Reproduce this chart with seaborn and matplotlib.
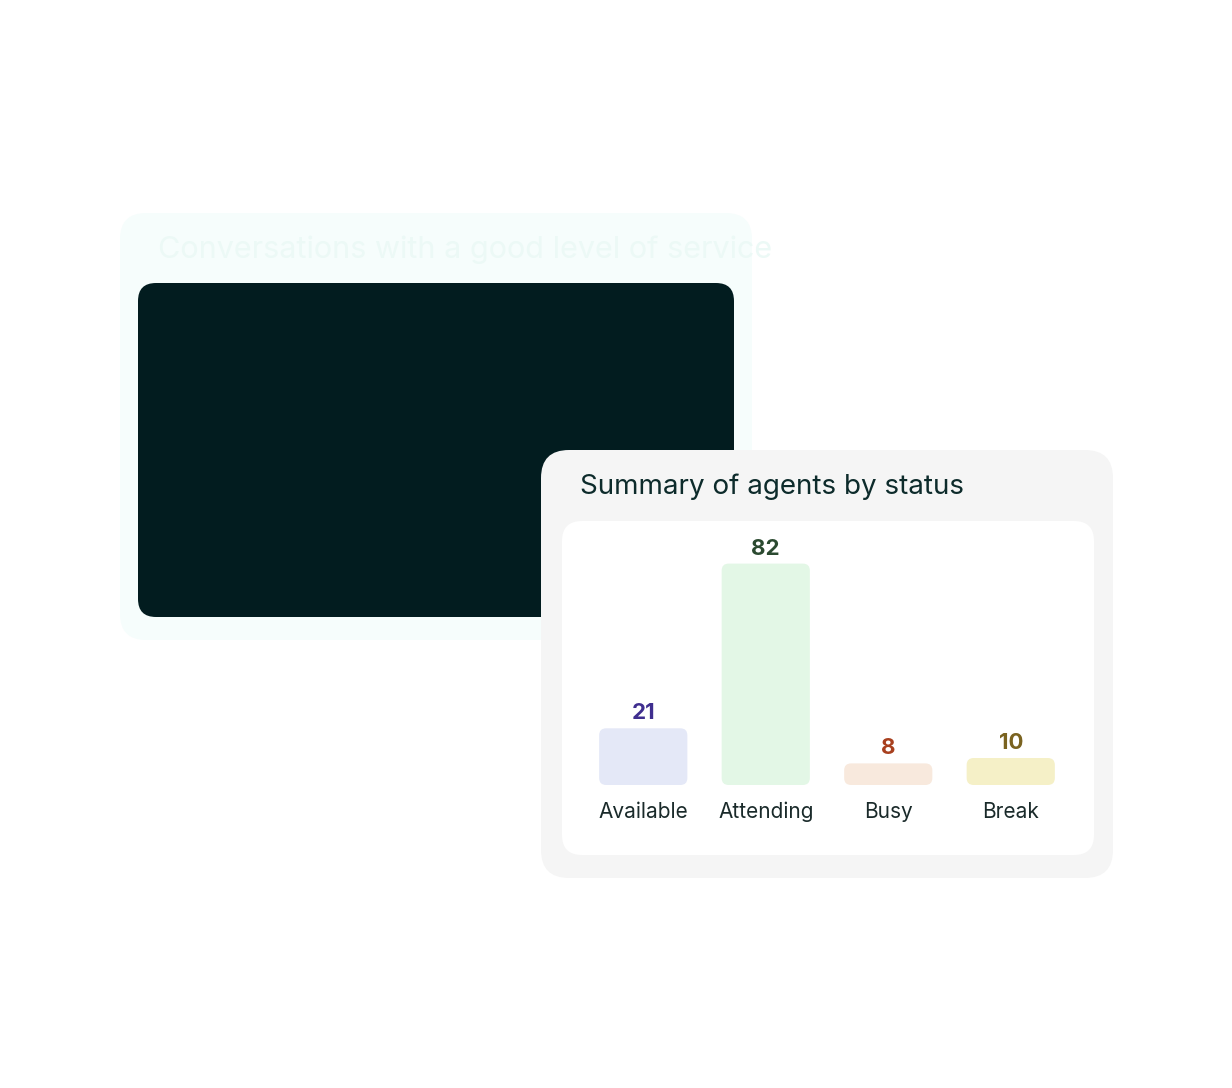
import numpy as np
import pandas as pd
import matplotlib
matplotlib.use("Agg")
import matplotlib.pyplot as plt
import seaborn as sns
from matplotlib.patches import FancyBboxPatch
from matplotlib.colors import to_rgb

# data
line_minutes = [-3, 13.4, 30.4, 45.4, 64.3, 84.5, 96.3]
line_values = [67, 74, 95, 79.5, 89, 95.5, 95.5]
marker_flags = [False, True, True, True, True, True, False]
tick_minutes = [0, 15, 30, 45, 60]
tick_labels = ["9:00", "9:15", "9:30", "9:45", "10:00"]
y_ticks = [20, 40, 60, 80, 100]

statuses = ["Available", "Attending", "Busy", "Break"]
counts = [21, 82, 8, 10]
bar_colors = ["#e1e6fa", "#e0fae3", "#fde8d8", "#fdf6bf"]
value_colors = ["#3f2e8f", "#2b4a30", "#a8401f", "#7a6320"]

sns.set_theme(style="white")
plt.rcParams["font.family"] = ["Inter", "DejaVu Sans"]

W, H = 1232, 1088
fig = plt.figure(figsize=(W / 100, H / 100), dpi=100)
fig.patch.set_facecolor("white")


def card(x0, y0, x1, y1, color, r, z):
    p = FancyBboxPatch((x0 / W, 1 - y1 / H), (x1 - x0) / W, (y1 - y0) / H,
                       boxstyle=f"round,pad=0,rounding_size={r / W}",
                       mutation_aspect=W / H, transform=fig.transFigure,
                       facecolor=color, edgecolor="none", zorder=z)
    fig.patches.append(p)


def axes_px(x0, y0, x1, y1):
    return fig.add_axes([x0 / W, 1 - y1 / H, (x1 - x0) / W, (y1 - y0) / H])


# back card + dark panel
card(120, 213, 752, 640, "#f6fdfc", 26, 0)
fig.text(158 / W, 1 - 250 / H, "Conversations with a good level of service",
         fontsize=22, color="#ecf9f6", va="center", zorder=1)
card(138, 283, 734, 617, "#021c1f", 18, 1)

ax = axes_px(192, 300, 734, 563)
ax.set_facecolor("none")
c0, c1 = np.array(to_rgb("#8eeacb")), np.array(to_rgb("#bcb9f2"))
n = len(line_minutes) - 1
for i in range(n):
    col = c0 + (c1 - c0) * (i + 0.5) / n
    sns.lineplot(x=line_minutes[i:i + 2], y=line_values[i:i + 2], ax=ax,
                 color=col, linewidth=3, solid_capstyle="round")
mx = [m for m, f in zip(line_minutes, marker_flags) if f]
my = [v for v, f in zip(line_values, marker_flags) if f]
mc = [c0 + (c1 - c0) * i / (len(mx) - 1) for i in range(len(mx))]
ax.scatter(mx, my, s=55, c=mc, zorder=3, edgecolors="none")
ax.set_xlim(-4.5, 102.4)
ax.set_ylim(5.2, 110)
ax.set_xticks(tick_minutes)
ax.set_xticklabels(tick_labels)
ax.set_yticks(y_ticks)
ax.tick_params(colors="white", labelsize=16, length=0, pad=10)
for s in ["top", "right", "left"]:
    ax.spines[s].set_visible(False)
ax.spines["bottom"].set_color("#d8dede")
ax.spines["bottom"].set_linewidth(1.5)

# front card
card(541, 450, 1113, 878, "#f5f5f5", 28, 5)
card(562, 521, 1094, 855, "#ffffff", 20, 6)
fig.text(580 / W, 1 - 487 / H, "Summary of agents by status", fontsize=20,
         color="#0d2b2b", va="center", zorder=7)

bx = axes_px(582, 515, 1072, 785)
bx.set_zorder(8)
bx.set_facecolor("none")
df = pd.DataFrame({"status": statuses, "count": counts})
sns.barplot(data=df, x="status", y="count", hue="status", palette=bar_colors,
            legend=False, width=0.72, ax=bx)
bx.set_ylim(0, 100)
bx.set_xlim(-0.5, 3.5)
xpp = 4 / 490
ypp = 100 / 270
for p, vc, v in zip(list(bx.patches), value_colors, counts):
    x, y, w, h = p.get_x(), p.get_y(), p.get_width(), p.get_height()
    p.set_visible(False)
    bx.add_patch(FancyBboxPatch((x, y), w, h,
                                boxstyle=f"round,pad=0,rounding_size={7 * xpp}",
                                mutation_aspect=ypp / xpp,
                                facecolor=p.get_facecolor(), edgecolor="none"))
    bx.text(x + w / 2, h + 5 * ypp, str(v), ha="center", va="bottom",
            fontsize=16, fontweight="bold", color=vc)
bx.set_xlabel("")
bx.set_ylabel("")
bx.set_yticks([])
bx.tick_params(axis="x", length=0, pad=12, labelsize=15, labelcolor="#1a2a2a")
sns.despine(ax=bx, left=True, bottom=True)

fig.savefig("out.png", dpi=100)
